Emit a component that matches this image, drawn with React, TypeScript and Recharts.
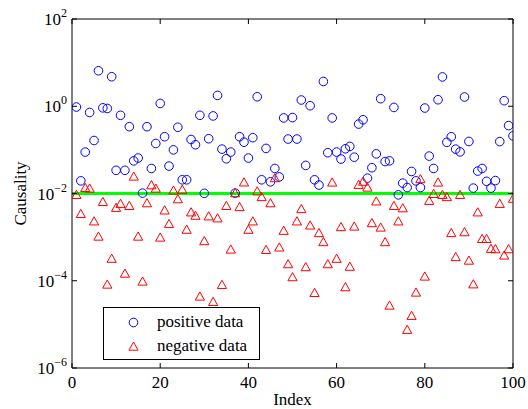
import React from "react";
import { ReferenceLine, Scatter, ScatterChart, XAxis, YAxis } from "recharts";

// causality per index
const POSITIVE_DATA = [
  0.96, 0.0195, 0.089, 0.72, 0.164, 6.5, 0.92, 0.89, 4.75, 0.034,
  0.62, 0.034, 0.34, 0.056, 0.065, 0.0102, 0.34, 0.0375, 0.14, 1.16,
  0.2, 0.0425, 0.1, 0.33, 0.0206, 0.0206, 0.173, 0.131, 0.62, 0.0101,
  0.18, 0.6, 1.77, 0.104, 0.0625, 0.089, 0.0102, 0.2, 0.15, 0.065,
  0.19, 1.65, 0.0206, 0.108, 0.0185, 0.0375, 0.024, 0.54, 0.177, 0.55,
  0.177, 1.39, 0.044, 1.03, 0.0206, 0.0156, 3.7, 0.086, 0.54, 0.089,
  0.0615, 0.106, 0.12, 0.068, 0.39, 0.49, 0.0225, 0.039, 0.081, 1.49,
  0.054, 0.056, 0.94, 0.0093, 0.0173, 0.0137, 0.032, 0.0195, 0.0137, 0.91,
  0.072, 0.0375, 1.41, 4.7, 0.149, 0.2, 0.104, 0.09, 1.63, 0.156,
  0.0133, 0.0327, 0.0375, 0.019, 0.0133, 0.0198, 0.155, 1.34, 0.36, 0.21,
];

const NEGATIVE_DATA = [
  0.0093, 0.0034, 0.0134, 0.013, 0.0023, 0.00103, 0.0064, 0.0000818, 0.00032, 0.0047,
  0.0058, 0.000146, 0.0052, 0.0245, 0.00103, 0.000096, 0.006, 0.0155, 0.013, 0.00098,
  0.0041, 0.002, 0.0117, 0.0074, 0.0122, 0.00148, 0.0037, 0.0031, 0.0000435, 0.00081,
  0.003, 0.0000328, 0.0027, 0.0000805, 0.0052, 0.00052, 0.0102, 0.0049, 0.018, 0.00148,
  0.0023, 0.0112, 0.0083, 0.00051, 0.006, 0.0225, 0.00058, 0.0014, 0.00024, 0.000121,
  0.0023, 0.0044, 0.000205, 0.00185, 0.0000527, 0.00124, 0.00077, 0.00024, 0.0179, 0.00032,
  0.0017, 0.0000713, 0.00021, 0.00175, 0.0158, 0.0187, 0.0137, 0.0021, 0.0066, 0.00166,
  0.00077, 0.000027, 0.0052, 0.0023, 0.0046, 0.0000075, 0.0000157, 0.0000537, 0.0214, 0.000125,
  0.0068, 0.0098, 0.0179, 0.0093, 0.0083, 0.00124, 0.00035, 0.0093, 0.0013, 0.00029,
  0.000083, 0.0037, 0.00091, 0.00091, 0.00054, 0.00053, 0.0058, 0.00038, 0.00053, 0.0076,
];

const X_TICKS = [0, 20, 40, 60, 80, 100];
const Y_TICKS = [1e-6, 1e-4, 1e-2, 1, 1e2];
const THRESHOLD = 0.01;

const BLUE = "#0000ff";
const RED = "#ff0000";
const GREEN = "#00ff00";
const FONT = '"Liberation Serif", "Times New Roman", serif';

const positivePoints = POSITIVE_DATA.map((value, i) => ({ index: i + 1, value }));
const negativePoints = NEGATIVE_DATA.map((value, i) => ({ index: i + 1, value }));

function CircleMark(props: any) {
  return <circle cx={props.cx} cy={props.cy} r={4.3} fill="none" stroke={BLUE} strokeWidth={1} />;
}

function TriangleMark(props: any) {
  const { cx, cy } = props;
  return (
    <polygon
      points={`${cx},${cy - 4.6} ${cx - 4.6},${cy + 3.6} ${cx + 4.6},${cy + 3.6}`}
      fill="none"
      stroke={RED}
      strokeWidth={1}
    />
  );
}

function BottomTick({ x, y, payload }: any) {
  return (
    <g>
      <line x1={x} y1={y} x2={x} y2={y - 5} stroke="#000" />
      <text x={x} y={y + 20} textAnchor="middle" fontSize={17} fill="#000" fontFamily={FONT}>
        {payload.value}
      </text>
    </g>
  );
}

function TopTick({ x, y }: any) {
  return <line x1={x} y1={y} x2={x} y2={y + 5} stroke="#000" />;
}

function LeftTick({ x, y, payload }: any) {
  const exp = Math.round(Math.log10(payload.value));
  const expText = exp < 0 ? `\u2212${-exp}` : `${exp}`;
  return (
    <g>
      <line x1={x} y1={y} x2={x + 5} y2={y} stroke="#000" />
      <text x={x - 5} y={y + 6} textAnchor="end" fontSize={17} fill="#000" fontFamily={FONT}>
        10
        <tspan dy={-8} fontSize={12}>
          {expText}
        </tspan>
      </text>
    </g>
  );
}

function RightTick({ x, y }: any) {
  return <line x1={x} y1={y} x2={x - 5} y2={y} stroke="#000" />;
}

function Legend() {
  return (
    <div
      style={{
        position: "absolute",
        left: 103,
        top: 307,
        width: 155,
        height: 51,
        border: "1px solid #000",
        background: "#fff",
        fontFamily: FONT,
        fontSize: 17,
        color: "#000",
      }}
    >
      <svg width={40} height={51} style={{ position: "absolute", left: 10, top: 0 }}>
        <circle cx={19.5} cy={14.5} r={4.3} fill="none" stroke={BLUE} />
        <polygon points="19.5,34 14.9,42.2 24.1,42.2" fill="none" stroke={RED} />
      </svg>
      <div style={{ position: "absolute", left: 53, top: 4, lineHeight: "20px", whiteSpace: "nowrap" }}>
        positive data
      </div>
      <div style={{ position: "absolute", left: 53, top: 28, lineHeight: "20px", whiteSpace: "nowrap" }}>
        negative data
      </div>
    </div>
  );
}

export default function App() {
  // pinned to the page corner so nothing overflows the 528x409 window
  return (
    <div style={{ position: "absolute", left: 0, top: 0, width: 528, height: 409, fontFamily: FONT }}>
      <ScatterChart width={528} height={409} margin={{ top: 18, right: 14, bottom: 0, left: 0 }}>
        <XAxis
          dataKey="index"
          type="number"
          domain={[0, 100]}
          ticks={X_TICKS}
          allowDataOverflow
          height={41}
          tickSize={0}
          tickMargin={0}
          tickLine={false}
          tick={<BottomTick />}
          axisLine={{ stroke: "#000" }}
          interval={0}
          label={(p: any) => {
            const vb = p.viewBox;
            return (
              <text x={vb.x + vb.width / 2} y={vb.y + 37} textAnchor="middle" fontSize={17} fontFamily={FONT} fill="#000">
                Index
              </text>
            );
          }}
        />
        <XAxis
          xAxisId="top"
          orientation="top"
          dataKey="index"
          type="number"
          domain={[0, 100]}
          ticks={X_TICKS}
          allowDataOverflow
          height={1}
          tickSize={0}
          tickMargin={0}
          tickLine={false}
          tick={<TopTick />}
          axisLine={{ stroke: "#000" }}
          interval={0}
        />
        <YAxis
          dataKey="value"
          type="number"
          scale="log"
          domain={[1e-6, 1e2]}
          ticks={Y_TICKS}
          allowDataOverflow
          width={72}
          tickSize={0}
          tickMargin={0}
          tickLine={false}
          tick={<LeftTick />}
          axisLine={{ stroke: "#000" }}
          interval={0}
          label={(p: any) => {
            const vb = p.viewBox;
            const cx = vb.x + 20;
            const cy = vb.y + vb.height / 2;
            return (
              <text
                x={cx}
                y={cy}
                textAnchor="middle"
                transform={`rotate(-90 ${cx} ${cy})`}
                dy={6}
                fontSize={17}
                fontFamily={FONT}
                fill="#000"
              >
                Causality
              </text>
            );
          }}
        />
        <YAxis
          yAxisId="right"
          orientation="right"
          dataKey="value"
          type="number"
          scale="log"
          domain={[1e-6, 1e2]}
          ticks={Y_TICKS}
          allowDataOverflow
          width={1}
          tickSize={0}
          tickMargin={0}
          tickLine={false}
          tick={<RightTick />}
          axisLine={{ stroke: "#000" }}
          interval={0}
        />
        <Scatter name="positive data" data={positivePoints} shape={<CircleMark />} isAnimationActive={false} />
        <Scatter name="negative data" data={negativePoints} shape={<TriangleMark />} isAnimationActive={false} />
        <ReferenceLine y={THRESHOLD} stroke={GREEN} strokeWidth={3} />
      </ScatterChart>
      <Legend />
    </div>
  );
}
